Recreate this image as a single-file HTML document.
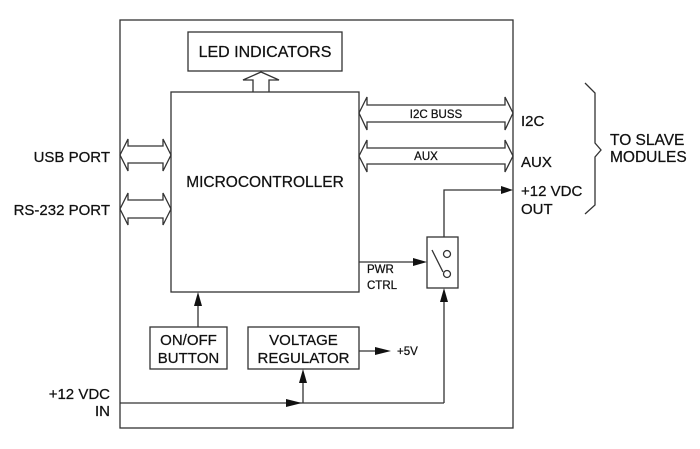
<!DOCTYPE html>
<html><head><style>
body{margin:0;background:#fff}
svg{display:block}
text{font-family:"Liberation Sans",Arial,sans-serif;fill:#111;stroke:#111;stroke-width:0.25}
</style></head><body>
<svg width="700" height="449" viewBox="0 0 700 449">
<g fill="none" stroke="#333" stroke-width="1.3">
<rect x="120" y="20" width="393" height="408"/>
<rect x="188" y="32" width="154" height="39"/>
<rect x="171" y="92" width="188" height="200"/>
<rect x="427" y="237" width="31" height="51"/>
<rect x="150" y="327" width="77" height="42"/>
<rect x="248" y="327" width="111" height="42"/>
<polyline points="253,92 253,80 243,80 261,72 279,80 269,80 269,92"/>
<polygon points="359,113 367,97 367,105 505,105 505,97 513,113 505,130 505,122 367,122 367,130"/>
<polygon points="359,156 367,140 367,148 505,148 505,140 513,156 505,172 505,164 367,164 367,172"/>
<polygon points="120,155 128,139 128,146 163,146 163,139 171,155 163,171 163,163 128,163 128,171"/>
<polygon points="120,209 128,193 128,200 163,200 163,193 171,209 163,225 163,218 128,218 128,225"/>
<polyline points="444,237 444,190 505,190"/>
<line x1="359" y1="262" x2="420" y2="262"/>
<line x1="444" y1="403" x2="444" y2="295"/>
<line x1="198" y1="327" x2="198" y2="299"/>
<line x1="359" y1="351" x2="380" y2="351"/>
<polyline points="120,403 444,403"/>
<line x1="303" y1="403" x2="303" y2="376"/>
<line x1="432" y1="250" x2="443" y2="272"/>
<circle cx="447" cy="254" r="3.5"/>
<circle cx="447" cy="274" r="3.5"/>
<polyline points="585,83 595,93 595,143 601,150 595,157 595,205 585,214"/>
</g>
<g fill="#111">
<polygon points="513,190 501,186 501,194"/>
<polygon points="427,262 413,258 413,266"/>
<polygon points="444,288 440,302 448,302"/>
<polygon points="198,292 194,306 202,306"/>
<polygon points="391,351 375,347 375,355"/>
<polygon points="302,403 286,399 286,407"/>
<polygon points="303,369 299,383 307,383"/>
</g>
<text x="265" y="57" font-size="16" text-anchor="middle">LED INDICATORS</text>
<text x="265" y="187" font-size="15.5" text-anchor="middle">MICROCONTROLLER</text>
<text x="436" y="118" font-size="11.5" text-anchor="middle">I2C BUSS</text>
<text x="426" y="160" font-size="11.5" text-anchor="middle">AUX</text>
<text x="367" y="273" font-size="11.5">PWR</text>
<text x="367" y="289" font-size="11.5">CTRL</text>
<text x="188.5" y="345" font-size="15" text-anchor="middle">ON/OFF</text>
<text x="188.5" y="363" font-size="15" text-anchor="middle">BUTTON</text>
<text x="303.5" y="345" font-size="15" text-anchor="middle">VOLTAGE</text>
<text x="303.5" y="363" font-size="15" text-anchor="middle">REGULATOR</text>
<text x="397" y="355" font-size="11.5">+5V</text>
<text x="110" y="162" font-size="15" text-anchor="end">USB PORT</text>
<text x="110" y="215" font-size="15" text-anchor="end">RS-232 PORT</text>
<text x="110" y="399" font-size="15" text-anchor="end">+12 VDC</text>
<text x="110" y="416" font-size="15" text-anchor="end">IN</text>
<text x="521" y="126" font-size="15">I2C</text>
<text x="521" y="167" font-size="15">AUX</text>
<text x="521" y="196" font-size="15">+12 VDC</text>
<text x="521" y="214" font-size="15">OUT</text>
<text x="610" y="145" font-size="15.5">TO SLAVE</text>
<text x="610" y="162" font-size="15.5">MODULES</text>
</svg>
</body></html>
